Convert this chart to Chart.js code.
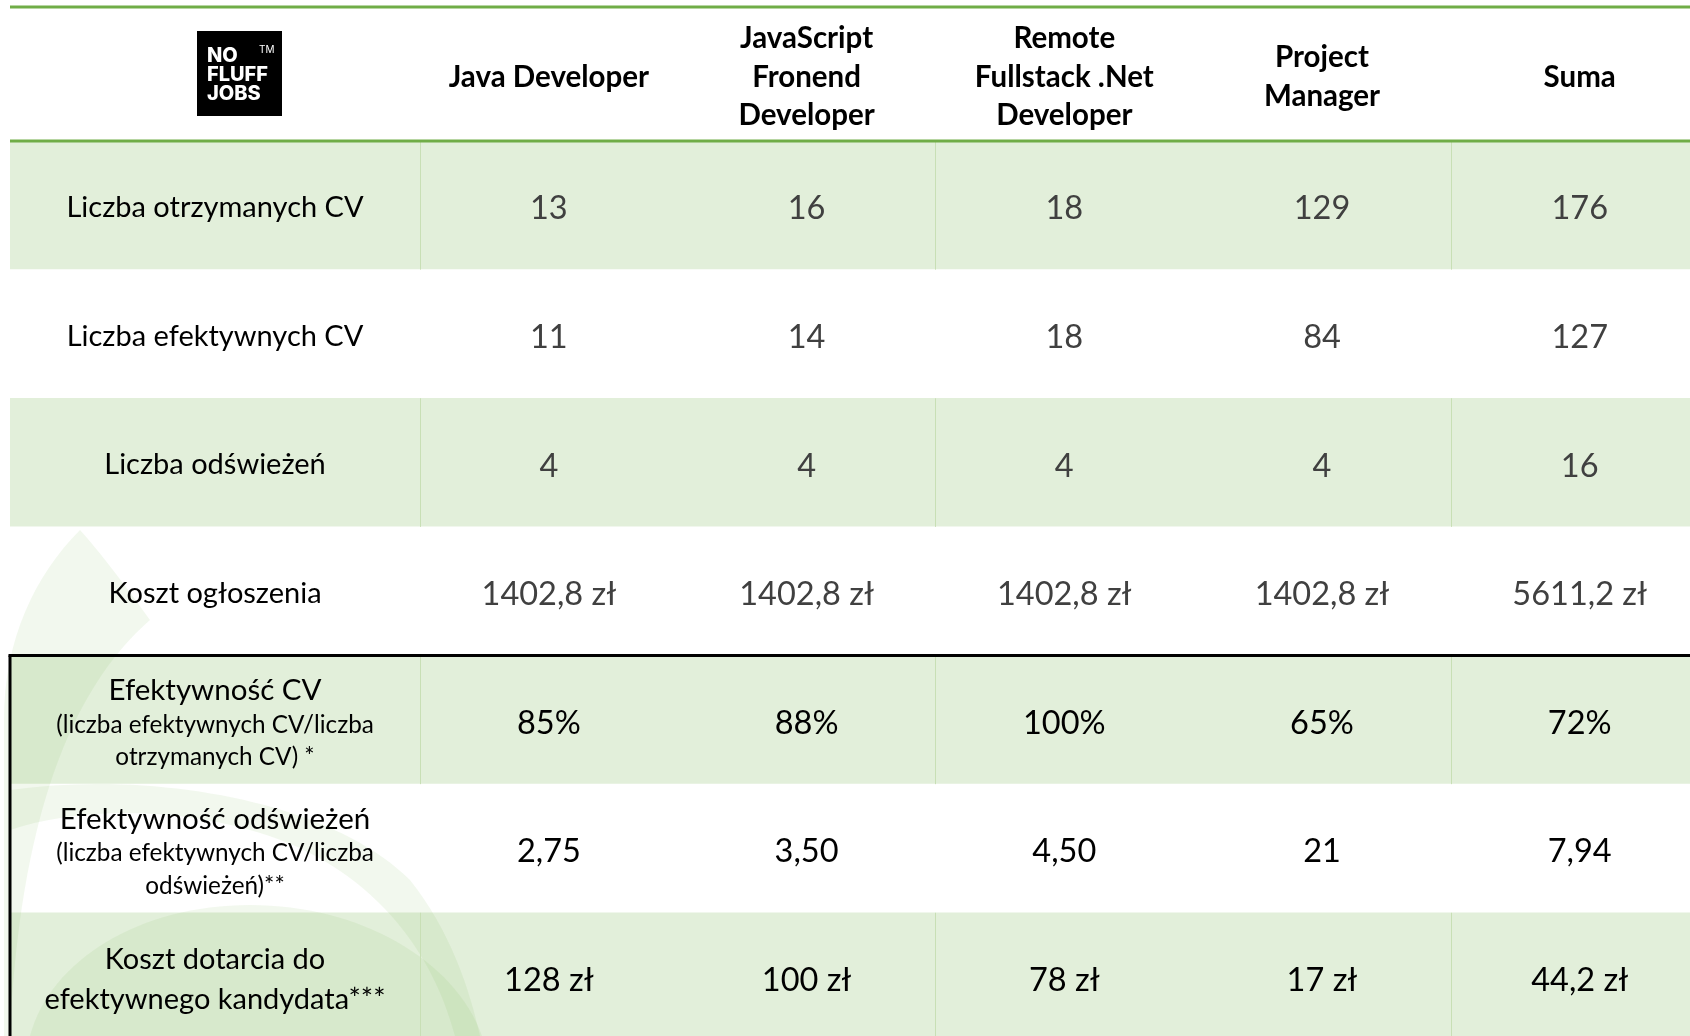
<!DOCTYPE html>
<html lang="pl">
<head>
<meta charset="utf-8">
<title>No Fluff Jobs - efektywność ogłoszeń</title>
<script src="https://cdn.jsdelivr.net/npm/chart.js@4.4.1/dist/chart.umd.min.js"></script>
<style>
    html, body { margin: 0; padding: 0; background: #ffffff; overflow: hidden; }
    #wrap { position: relative; width: 1690px; height: 1036px; }
</style>
</head>
<body>
<div id="wrap"><canvas id="tableChart"></canvas></div>
<script>
// --- data ---
const jobHeaderLines = [
    ['Java Developer'],
    ['JavaScript', 'Fronend', 'Developer'],
    ['Remote', 'Fullstack .Net', 'Developer'],
    ['Project', 'Manager'],
    ['Suma']
];
const rowLabelLines = [
    ['Liczba otrzymanych CV'],
    ['Liczba efektywnych CV'],
    ['Liczba odświeżeń'],
    ['Koszt ogłoszenia'],
    ['Efektywność CV'],
    ['Efektywność odświeżeń'],
    ['Koszt dotarcia do', 'efektywnego kandydata***']
];
const rowNoteLines = [
    [], [], [], [],
    ['(liczba efektywnych CV/liczba', 'otrzymanych CV) *'],
    ['(liczba efektywnych CV/liczba', 'odświeżeń)**'],
    []
];
const receivedCv = [13, 16, 18, 129, 176];
const effectiveCv = [11, 14, 18, 84, 127];
const refreshCount = [4, 4, 4, 4, 16];
const adCost = [1402.8, 1402.8, 1402.8, 1402.8, 5611.2];
const cvEfficiency = [85, 88, 100, 65, 72];
const refreshEfficiency = [2.75, 3.5, 4.5, 21, 7.94];
const costPerCandidate = [128, 100, 78, 17, 44.2];

const tableValues = [receivedCv, effectiveCv, refreshCount, adCost, cvEfficiency, refreshEfficiency, costPerCandidate];

// --- formatting ---
function plNumber(v, digits) {
    return (digits == null ? String(v) : v.toFixed(digits)).replace('.', ',');
}
const rowFormatters = [
    v => String(v),
    v => String(v),
    v => String(v),
    v => plNumber(v) + ' zł',
    v => v + '%',
    v => Number.isInteger(v) ? String(v) : plNumber(v, 2),
    v => plNumber(v) + ' zł'
];

// --- layout (scale units: one data column = 1, one body row = 1) ---
const LABEL_W = 1.591;
const HEADER_H = 1.042;
const X_MAX = 6.519;
const Y_MAX = 8.0;

const BAND_GREEN = '#e2efda';
const LINE_GREEN = '#70ad47';
const SEP_GREEN = '#c8dfb5';
const FONT = 'Lato, "Open Sans", sans-serif';

function rowCenter(r) { return HEADER_H + r + 0.5; }
function colCenter(c) { return LABEL_W + c + 0.5; }

const bandData = rowLabelLines.map((_, r) => ({ y: rowCenter(r), x: [0, X_MAX] }));
const bandColors = rowLabelLines.map((_, r) => r % 2 === 0 ? BAND_GREEN : '#ffffff');

function drawWatermark(ctx) {
    ctx.save();
    ctx.fillStyle = 'rgba(112, 173, 71, 0.09)';
    // leaf on the left edge
    ctx.beginPath();
    ctx.moveTo(80, 530);
    ctx.bezierCurveTo(35, 575, 4, 640, 4, 720);
    ctx.lineTo(4, 1036);
    ctx.lineTo(10, 1036);
    ctx.bezierCurveTo(20, 820, 70, 690, 150, 620);
    ctx.bezierCurveTo(125, 585, 100, 552, 80, 530);
    ctx.fill();

    // dome at the bottom
    ctx.beginPath();
    ctx.moveTo(30, 1036);
    ctx.bezierCurveTo(50, 960, 140, 905, 250, 905);
    ctx.bezierCurveTo(360, 905, 455, 960, 482, 1036);
    ctx.closePath();
    ctx.fill();

    // sweeping band
    ctx.beginPath();
    ctx.moveTo(10, 790);
    ctx.bezierCurveTo(150, 770, 330, 800, 410, 880);
    ctx.bezierCurveTo(450, 930, 470, 990, 480, 1036);
    ctx.lineTo(455, 1036);
    ctx.bezierCurveTo(430, 940, 360, 860, 250, 830);
    ctx.bezierCurveTo(160, 805, 70, 810, 10, 830);
    ctx.closePath();
    ctx.fill();
    ctx.restore();
}

function drawLogo(ctx, area) {
    const x0 = area.left + 187;
    const y0 = 31;
    ctx.save();
    ctx.fillStyle = '#000000';
    ctx.fillRect(x0, y0, 85, 85);
    ctx.fillStyle = '#ffffff';
    ctx.textAlign = 'left';
    ctx.textBaseline = 'alphabetic';
    ctx.font = '800 20px Inter, sans-serif';
    ctx.fillText('NO', x0 + 10, y0 + 31);
    ctx.fillText('FLUFF', x0 + 10, y0 + 50);
    ctx.fillText('JOBS', x0 + 10, y0 + 69);
    ctx.font = '10px Inter, sans-serif';
    ctx.fillText('TM', x0 + 62, y0 + 22);
    ctx.restore();
}

function hLine(ctx, x1, x2, y, color, width) {
    ctx.beginPath();
    ctx.strokeStyle = color;
    ctx.lineWidth = width;
    ctx.moveTo(x1, y);
    ctx.lineTo(x2, y);
    ctx.stroke();
}

const tablePlugin = {
    id: 'tableText',
    afterDatasetsDraw(chart) {
        const ctx = chart.ctx;
        const xs = chart.scales.x;
        const ys = chart.scales.y;
        const left = xs.getPixelForValue(0);
        const right = xs.getPixelForValue(X_MAX);

        drawWatermark(ctx);

        // separators inside green rows
        ctx.save();
        [LABEL_W, LABEL_W + 2, LABEL_W + 4].forEach(v => {
            const px = Math.round(xs.getPixelForValue(v)) + 0.5;
            rowLabelLines.forEach((_, r) => {
                if (r % 2 !== 0) return;
                ctx.beginPath();
                ctx.strokeStyle = SEP_GREEN;
                ctx.lineWidth = 1;
                ctx.moveTo(px, ys.getPixelForValue(HEADER_H + r));
                ctx.lineTo(px, ys.getPixelForValue(HEADER_H + r + 1));
                ctx.stroke();
            });
        });

        // green rules
        hLine(ctx, left, right, ys.getPixelForValue(0), LINE_GREEN, 3);
        hLine(ctx, left, right, ys.getPixelForValue(HEADER_H), LINE_GREEN, 3);

        // black frame around the efficiency rows
        const boxTop = ys.getPixelForValue(HEADER_H + 4);
        hLine(ctx, left - 1.5, right, boxTop, '#000000', 3);
        ctx.beginPath();
        ctx.strokeStyle = '#000000';
        ctx.lineWidth = 3;
        ctx.moveTo(left, boxTop);
        ctx.lineTo(left, chart.height);
        ctx.stroke();
        ctx.restore();

        drawLogo(ctx, chart.chartArea);

        ctx.save();
        ctx.textAlign = 'center';
        ctx.textBaseline = 'middle';

        // header
        const headY = ys.getPixelForValue(HEADER_H / 2) + 3;
        ctx.fillStyle = '#000000';
        ctx.font = 'bold 29.5px ' + FONT;
        jobHeaderLines.forEach((lines, c) => {
            const cx = xs.getPixelForValue(colCenter(c));
            lines.forEach((line, i) => {
                ctx.fillText(line, cx, headY + (i - (lines.length - 1) / 2) * 38.5);
            });
        });

        // body rows
        const labelX = xs.getPixelForValue(LABEL_W / 2);
        rowLabelLines.forEach((lines, r) => {
            const cy = ys.getPixelForValue(rowCenter(r));
            const notes = rowNoteLines[r];
            ctx.fillStyle = '#000000';
            if (notes.length) {
                ctx.font = '29.5px ' + FONT;
                ctx.fillText(lines[0], labelX, cy - 29);
                ctx.font = '24.3px ' + FONT;
                notes.forEach((n, i) => ctx.fillText(n, labelX, cy + 5 + i * 32.5));
            } else {
                ctx.font = '29px ' + FONT;
                lines.forEach((line, i) => {
                    ctx.fillText(line, labelX, cy + 2.5 + (i - (lines.length - 1) / 2) * 40);
                });
            }

            ctx.font = '32.5px ' + FONT;
            ctx.fillStyle = r < 4 ? '#404040' : '#000000';
            tableValues[r].forEach((v, c) => {
                ctx.fillText(rowFormatters[r](v), xs.getPixelForValue(colCenter(c)), cy + 3.5);
            });
        });
        ctx.restore();
    }
};

new Chart(document.getElementById('tableChart'), {
    type: 'bar',
    data: {
        datasets: [{
            data: bandData,
            backgroundColor: bandColors,
            borderWidth: 0,
            barPercentage: 1,
            categoryPercentage: 1
        }]
    },
    options: {
        indexAxis: 'y',
        responsive: true,
        maintainAspectRatio: false,
        animation: false,
        events: [],
        layout: {
            padding: { top: 7, left: 10, right: 0, bottom: 0 }
        },
        scales: {
            x: { type: 'linear', min: 0, max: X_MAX, offset: false, display: false },
            y: { type: 'linear', reverse: true, min: 0, max: Y_MAX, offset: false, display: false, ticks: { stepSize: 1 } }
        },
        plugins: {
            legend: { display: false },
            tooltip: { enabled: false }
        }
    },
    plugins: [tablePlugin]
});
</script>
</body>
</html>
